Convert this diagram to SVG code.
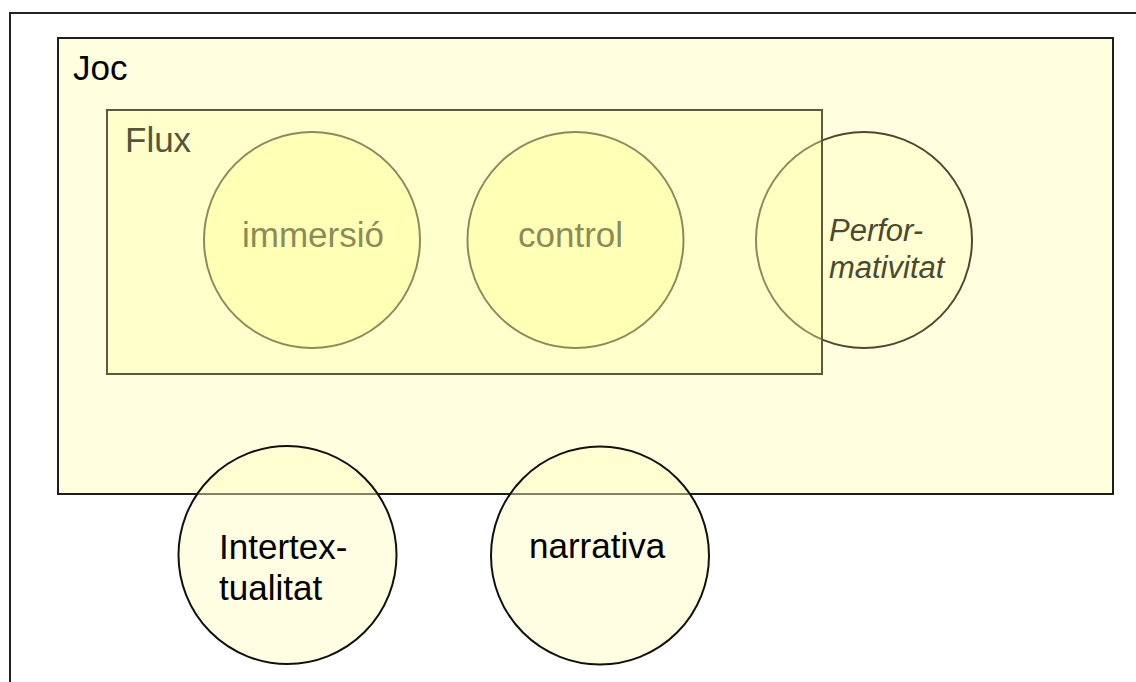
<svg xmlns="http://www.w3.org/2000/svg" width="1136" height="682" viewBox="0 0 1136 682">
  <style>
    text { font-family: "Liberation Sans", Arial, sans-serif; font-size: 35px; }
    .frame { fill: none; stroke: #222; stroke-width: 2; }
    .box { fill: #ffffe0; stroke: #1e1e1e; stroke-width: 2; }
    .inner { fill: #ffffbd; stroke: #4a4a30; stroke-width: 2; }
    .veil { fill: rgb(255,255,165); fill-opacity: 0.36; stroke: #5c5a3c; stroke-width: 2; }
    .outer { fill: rgb(255,252,190); fill-opacity: 0.45; stroke: #111; stroke-width: 2; }
    .dim { fill: #4a4a30; }
    .ink { fill: #000; }
    .slant { font-style: italic; font-size: 31px; }
  </style>

  <!-- page frame -->
  <rect class="frame" x="10" y="13" width="1200" height="800"/>

  <!-- game container -->
  <g id="joc">
    <rect class="box" x="58" y="38" width="1055" height="456"/>
    <text class="ink" x="73" y="80">Joc</text>
  </g>

  <!-- performativity overlaps the flow box edge -->
  <g id="performativitat">
    <circle cx="864" cy="240" r="108" fill="#ffffd2" stroke="#4a4a30" stroke-width="2"/>
  </g>

  <g id="immersio">
    <circle class="inner" cx="312" cy="240" r="108"/>
    <text class="dim" x="242" y="247">immersió</text>
  </g>

  <g id="control">
    <circle class="inner" cx="575.5" cy="240" r="108"/>
    <text class="dim" x="518" y="247">control</text>
  </g>

  <!-- flow box laid over its circles as a translucent veil -->
  <g id="flux">
    <rect class="veil" x="107" y="110" width="715" height="264"/>
    <text fill="#55553a" x="125" y="152">Flux</text>
  </g>

  <g id="performativitat-label">
    <text class="dim slant" x="829" y="241">Perfor-</text>
    <text class="dim slant" x="829" y="278">mativitat</text>
  </g>

  <g id="intertextualitat">
    <circle class="outer" cx="287.5" cy="555" r="109"/>
    <text class="ink" x="219" y="559">Intertex-</text>
    <text class="ink" x="219" y="600">tualitat</text>
  </g>

  <g id="narrativa">
    <circle class="outer" cx="600" cy="555.5" r="109"/>
    <text class="ink" x="529" y="558">narrativa</text>
  </g>

  <g id="connectors"/>
</svg>
